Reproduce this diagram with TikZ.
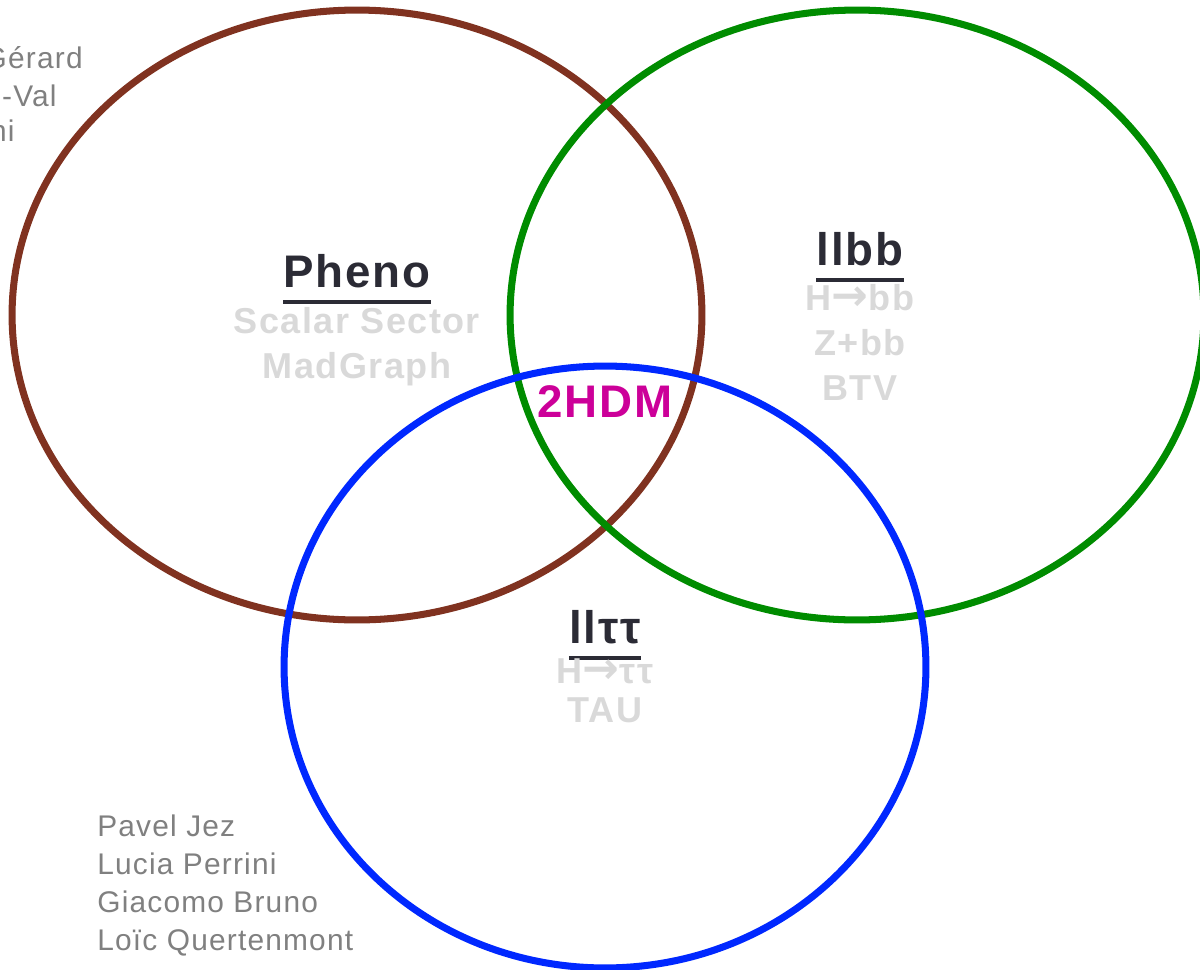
\documentclass[tikz,border=0pt]{standalone}
\usepackage{fontspec}
\setmainfont{Liberation Sans}[LetterSpace=4]
\newfontfamily\arrowfont{DejaVu Sans}
\usepackage{tikz}
\usetikzlibrary{positioning}
\definecolor{phenobrown}{RGB}{128,50,32}
\definecolor{llbbgreen}{RGB}{0,140,0}
\definecolor{lltaublue}{RGB}{0,40,255}
\definecolor{hdmmagenta}{RGB}{204,0,153}
\definecolor{titledark}{RGB}{43,43,53}
\definecolor{topicgray}{RGB}{217,217,217}
\definecolor{namegray}{RGB}{128,128,128}
\newcommand{\hto}{{\arrowfont\fontsize{25}{24}\selectfont →}}

\begin{document}
\begin{tikzpicture}[x=0.02cm, y=-0.02cm,
    ring/.style={line width=4pt},
    title/.style={anchor=base, inner sep=0pt, text=titledark,
      font=\fontsize{26}{31}\selectfont\bfseries},
    topic/.style={anchor=base, inner sep=0pt, text=topicgray,
      font=\fontsize{20.5}{24}\selectfont\bfseries},
    person/.style={anchor=base west, inner sep=0pt, text=namegray,
      font=\fontsize{17}{20}\selectfont},
    uline/.style={titledark, line width=2.2pt}]
  \useasboundingbox (0,0) rectangle (1200,970);
  \clip (0,0) rectangle (1200,970);
  % the three groups
  \draw[ring, phenobrown] (357,315) ellipse [x radius=6.9cm, y radius=6.1cm];
  \draw[ring, llbbgreen] (857,315) ellipse [x radius=6.94cm, y radius=6.1cm];
  \draw[ring, lltaublue] (605,667) ellipse [x radius=6.42cm, y radius=6.02cm];
  % titles
  \node[title] (pheno) at (357,287) {Pheno};
  \node[title] (llbb) at (860,265) {llbb};
  \node[title] (lltt) at (605,643) {llττ};
  \foreach\t in {pheno,llbb,lltt}{
    \draw[uline] ([yshift=-8.5pt]\t.base west) -- ([yshift=-8.5pt]\t.base east);
  }
  % topics
  \node[topic] (scalar) at (357,333) {Scalar Sector};
  \node[topic] (madgraph) at (357,378) {MadGraph};
  \node[topic] (hbb) at (860,310) {H\hto bb};
  \node[topic] (zbb) at (860,355) {Z+bb};
  \node[topic] (btv) at (860,400) {BTV};
  \node[topic] (htt) at (605,683) {H\hto ττ};
  \node[topic] (tau) at (605,722) {TAU};
  \node[anchor=base, inner sep=0pt, text=hdmmagenta,
    font=\fontsize{26}{31}\selectfont\bfseries] (hdm) at (605,417) {2HDM};
  % people
  \foreach\n/\who in {0/Pavel Jez,1/Lucia Perrini,2/Giacomo Bruno,3/Loïc Quertenmont}{
    \node[person] (name\n) at (97,836+38*\n) {\who};
  }
  \node[person, anchor=base east] (gerard) at (83,68) {Gérard};
  \node[person, anchor=base east] (val) at (57,106) {-Val};
  \node[person, anchor=base east] (ni) at (15,141) {ni};
\end{tikzpicture}
\end{document}
